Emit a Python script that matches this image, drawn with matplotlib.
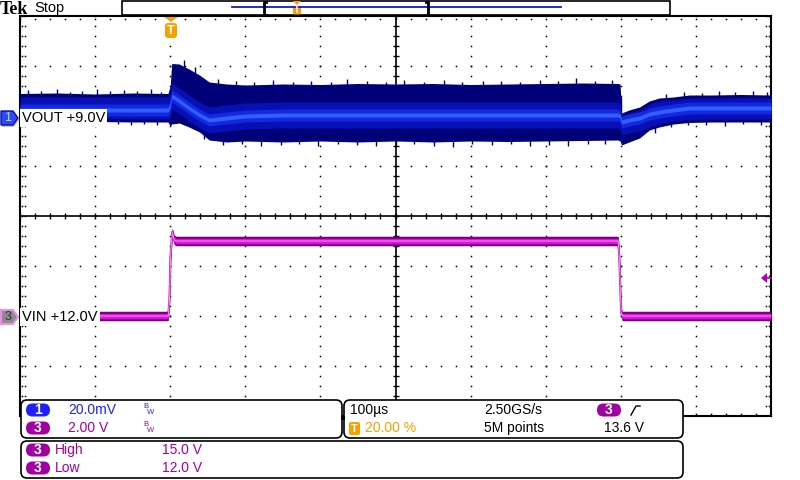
import numpy as np
import matplotlib.pyplot as plt
from matplotlib.patches import FancyBboxPatch, Polygon, Rectangle

plt.rcParams['font.family'] = ['Liberation Sans', 'DejaVu Sans']

# time after trigger (us); scope shows -200 .. 800 us (100 us/div)
t_out = [-200, -150, -100, -50, -3, 0, 2, 12, 25, 39, 52, 75, 100, 150, 200, 250, 300,
         350, 400, 450, 500, 550, 596, 599, 601, 611, 625, 638, 651, 670, 691, 720, 760, 800]
# VOUT ripple envelope, mV around 9.0 V (20 mV/div)
vout_hi = [9.0, 9.2, 8.8, 9.2, 9.0, 12.0, 21.0, 20.8, 18.8, 16.4, 13.6, 12.8, 12.4, 12.8, 12.6,
           13.0, 12.8, 13.0, 12.6, 12.8, 13.0, 13.2, 13.0, 12.8, 1.2, 2.4, 3.6, 6.0, 7.2, 7.6,
           8.4, 8.4, 8.6, 8.4]
vout_lo = [-2.4, -2.4, -2.2, -2.4, -2.4, -4.0, -3.2, -2.8, -4.4, -6.4, -9.6, -10.4, -10.0,
           -10.4, -10.0, -10.4, -10.0, -10.4, -10.0, -10.2, -10.0, -9.8, -9.6, -10.0, -11.6,
           -10.4, -8.8, -5.6, -4.4, -3.2, -2.6, -2.4, -2.4, -2.4]
vout_mid = [2.4, 2.4, 2.4, 2.4, 2.4, 4.0, 8.0, 6.0, 3.2, 0.4, -1.6, -0.8, 0.0, 0.4, 0.4, 0.4,
            0.4, 0.4, 0.4, 0.4, 0.4, 0.4, 0.4, 0.0, -2.4, -1.6, -0.8, 0.8, 1.6, 2.4, 3.2, 3.2,
            3.2, 3.2]

sp_up_t = [-190, -172, -151, -133, -117, -98, -80, -61, -44, -26, -12, 18, 33, 64, 88, 112,
           137, 163, 188, 214, 236, 262, 287, 311, 338, 364, 389, 416, 441, 466, 492, 517,
           541, 566, 588, 600, 660, 684, 708, 731, 752, 776, 795]
sp_up_v = [10.4, 9.8, 10.8, 9.6, 10.2, 11.0, 9.8, 10.4, 10.0, 10.8, 9.6, 22.4, 19.6, 14.8,
           14.0, 13.6, 14.4, 13.8, 14.2, 13.6, 14.8, 14.0, 13.6, 14.4, 13.8, 14.6, 13.6, 14.2,
           14.0, 13.8, 14.4, 14.0, 15.2, 14.0, 14.4, 7.6, 8.8, 9.6, 9.2, 10.0, 9.4, 9.8, 9.6]
sp_dn_t = [-182, -160, -141, -124, -105, -88, -70, -52, -35, -18, 45, 70, 96, 121, 147, 171,
           197, 223, 249, 274, 300, 325, 351, 377, 402, 428, 454, 479, 505, 530, 556, 579,
           645, 667, 690, 714, 739, 763, 787]
sp_dn_v = [-3.6, -3.2, -4.0, -3.0, -3.4, -3.8, -3.2, -3.6, -3.0, -3.4, -9.2, -11.6, -11.2,
           -12.0, -11.4, -11.0, -11.8, -11.2, -11.6, -12.0, -11.4, -11.0, -11.8, -12.2, -11.2,
           -11.6, -11.0, -11.8, -11.4, -12.0, -11.2, -11.0, -6.8, -4.4, -3.6, -3.4, -3.8,
           -3.2, -3.6]

# VIN, volts (2 V/div, offset 12.0 V)
t_in = [-200, -2.7, -1, 0.5, 2.7, 5.3, 8, 596.5, 598, 600.5, 602, 604, 800]
vin = [12.0, 12.0, 12.6, 14.4, 15.35, 15.05, 15.0, 15.0, 14.4, 12.15, 12.0, 12.0, 12.0]


def tdiv(t):
    return (np.asarray(t, float) + 200) / 100


def out_div(mv):
    return 2 + np.asarray(mv, float) / 20


def in_div(v):
    return -2 + (np.asarray(v, float) - 12) / 2


fig = plt.figure(figsize=(8, 4.8), dpi=100)
ax = fig.add_axes([20 / 800, 64 / 480, 751 / 800, 400 / 480])
ax.set_xlim(0, 10)
ax.set_ylim(-4, 4)
ax.set_xticks([])
ax.set_yticks([])
for s in ax.spines.values():
    s.set_linewidth(1.5)
    s.set_color('black')

# graticule
mx = np.arange(0, 10.01, 0.2)
my = np.arange(-4, 4.01, 0.2)
dot = dict(ls='none', marker='s', ms=1.1, mew=0, color='black', zorder=1)
for gx in [1, 2, 3, 4, 6, 7, 8, 9]:
    ax.plot(np.full_like(my, gx), my, **dot)
for gy in [-3, -2, -1, 1, 2, 3]:
    ax.plot(mx, np.full_like(mx, gy), **dot)
for ex in [0.03, 0.07, 9.93, 9.97]:
    ax.plot(np.full_like(my, ex), my, **dot)
for ey in [3.95, -3.95]:
    ax.plot(mx, np.full_like(mx, ey), **dot)
ax.axhline(0, color='black', lw=1.2, zorder=1)
ax.axvline(5, color='black', lw=1.2, zorder=1)
ax.plot(mx, np.zeros_like(mx), ls='none', marker='|', ms=4, mew=1, color='black', zorder=1)
ax.plot(np.full_like(my, 5), my, ls='none', marker='_', ms=4, mew=1, color='black', zorder=1)

# VOUT persistence band
x_out = tdiv(t_out)
hi = np.array(vout_hi)
lo = np.array(vout_lo)
mid = np.array(vout_mid)
ax.vlines(tdiv(sp_up_t), out_div(np.interp(sp_up_t, t_out, mid)), out_div(sp_up_v),
          color='#00006e', lw=1.0, zorder=2)
ax.vlines(tdiv(sp_dn_t), out_div(sp_dn_v), out_div(np.interp(sp_dn_t, t_out, mid)),
          color='#00006e', lw=1.0, zorder=2)
ax.fill_between(x_out, out_div(lo), out_div(hi), color='#000078', lw=0, zorder=3)
ax.fill_between(x_out, out_div(np.maximum(mid - 5.2, lo + 1.2)), out_div(np.minimum(mid + 5.2, hi - 1.2)),
                color='#0610b4', lw=0, zorder=4)
ax.fill_between(x_out, out_div(np.maximum(mid - 2.4, lo)), out_div(np.minimum(mid + 2.4, hi)),
                color='#1428e0', lw=0, zorder=5)
ax.fill_between(x_out, out_div(np.maximum(mid - 0.8, lo)), out_div(np.minimum(mid + 0.8, hi)),
                color='#3060ff', lw=0, zorder=5)

# VIN trace
x_in = tdiv(t_in)
v = np.array(vin)
ax.plot(x_in, in_div(v), color='#a000a0', lw=1.5, zorder=6)
ax.fill_between(x_in, in_div(v - 0.19), in_div(v + 0.19), color='#7a007a', lw=0, zorder=6)
ax.fill_between(x_in, in_div(v - 0.1), in_div(v + 0.1), color='#e010e0', lw=0, zorder=7)
ax.plot(x_in, in_div(v), color='#ff80ff', lw=0.8, zorder=8)

# overlay in pixel coordinates
ov = fig.add_axes([0, 0, 1, 1])
ov.set_xlim(0, 800)
ov.set_ylim(480, 0)
ov.axis('off')
ov.patch.set_alpha(0)

ORANGE = '#f7a000'
BLUE = '#2020ff'
MAG = '#a000a0'

# header
ov.text(0, 9, 'Tek', family='Liberation Serif', weight='bold', fontsize=13, va='center')
ov.text(34, 8, 'Stop', fontsize=10.5, va='center')
ov.add_patch(Rectangle((122, 0.5), 548, 14.5, fc='white', ec='black', lw=1.2))
ov.plot([232, 561], [7, 7], color='#1818c8', lw=1.3)
ov.plot([266, 264, 264, 266], [1.5, 1.5, 14.5, 14.5], color='black', lw=2)
ov.plot([426, 428, 428, 426], [1.5, 1.5, 14.5, 14.5], color='black', lw=2)
ov.add_patch(Polygon([(293, 1), (301, 1), (297, 5)], fc=ORANGE, ec='none'))
ov.add_patch(FancyBboxPatch((293, 5), 8, 9.5, boxstyle='round,pad=0,rounding_size=2', fc=ORANGE, ec='none'))
ov.text(297, 10, 'T', color='white', fontsize=7, weight='bold', ha='center', va='center')

# trigger position marker
ov.add_patch(Polygon([(164, 17), (178, 17), (171, 22)], fc=ORANGE, ec='none'))
ov.add_patch(FancyBboxPatch((165, 23), 12, 15, boxstyle='round,pad=0,rounding_size=3', fc=ORANGE, ec='none'))
ov.text(171, 30.5, 'T', color='white', fontsize=9, weight='bold', ha='center', va='center')

# channel markers and labels
ov.add_patch(Polygon([(2, 113), (14, 113), (19, 120), (14, 127), (2, 127)], fc='#c8c0a0', ec='none'))
ov.add_patch(Polygon([(1, 111), (13, 111), (18, 118), (13, 125), (1, 125)], fc='#2a4cff', ec='#1010a0', lw=1))
ov.text(8, 118, '1', color='#c8d4ff', fontsize=9, ha='center', va='center')
ov.text(22, 118, 'VOUT +9.0V', fontsize=10.5, va='center',
        bbox=dict(facecolor='white', edgecolor='none', pad=1.5))
ov.add_patch(Polygon([(1, 310), (13, 310), (18, 317), (13, 324), (1, 324)], fc='#8c8c8c', ec='#e890e8', lw=1.5))
ov.text(8, 317, '3', color='#303030', fontsize=9, ha='center', va='center')
ov.text(22, 317, 'VIN +12.0V', fontsize=10.5, va='center',
        bbox=dict(facecolor='white', edgecolor='none', pad=1.5))

# trigger level arrow
ov.add_patch(Polygon([(761, 278), (767, 273), (767, 283)], fc='#b000b0', ec='none'))
ov.plot([765, 771], [278, 278], color='#b000b0', lw=1.2)

# readout panels
for (x0, y0, w, h) in [(21, 400, 321, 38), (344, 400, 339, 38), (21, 441, 662, 37)]:
    ov.add_patch(FancyBboxPatch((x0, y0), w, h, boxstyle='round,pad=0,rounding_size=6',
                                fc='white', ec='black', lw=1.2))
ov.add_patch(Rectangle((341, 416), 4, 4, fc='black', ec='none'))


def pill(x, y, label, color):
    ov.add_patch(FancyBboxPatch((x, y - 6.5), 24, 13, boxstyle='round,pad=0,rounding_size=6.5',
                                fc=color, ec='none'))
    ov.text(x + 12, y, label, color='white', fontsize=10, weight='bold', ha='center', va='center')


pill(26, 410, '1', BLUE)
ov.text(68, 410, '20.0mV', color=BLUE, fontsize=10, va='center')
ov.text(143, 407, 'B', color=BLUE, fontsize=5.5, va='center')
ov.text(147, 412, 'W', color=BLUE, fontsize=5.5, va='center')
pill(26, 428, '3', MAG)
ov.text(68, 428, '2.00 V', color=MAG, fontsize=10, va='center')
ov.text(143, 425, 'B', color=MAG, fontsize=5.5, va='center')
ov.text(147, 430, 'W', color=MAG, fontsize=5.5, va='center')

ov.text(350, 410, '100µs', fontsize=10, va='center')
ov.text(484, 410, '2.50GS/s', fontsize=10, va='center')
pill(597, 410, '3', MAG)
ov.plot([631, 636, 640], [415, 406, 406], color='black', lw=1)
ov.add_patch(FancyBboxPatch((349, 422), 11, 13, boxstyle='round,pad=0,rounding_size=2', fc=ORANGE, ec='none'))
ov.text(354.5, 428.5, 'T', color='white', fontsize=8, weight='bold', ha='center', va='center')
ov.text(365, 428, '20.00 %', color=ORANGE, fontsize=10, va='center')
ov.text(484, 428, '5M points', fontsize=10, va='center')
ov.text(604, 428, '13.6 V', fontsize=10, va='center')

pill(26, 450, '3', MAG)
ov.text(55, 450, 'High', color=MAG, fontsize=10, va='center')
ov.text(162, 450, '15.0 V', color=MAG, fontsize=10, va='center')
pill(26, 468, '3', MAG)
ov.text(55, 468, 'Low', color=MAG, fontsize=10, va='center')
ov.text(162, 468, '12.0 V', color=MAG, fontsize=10, va='center')

fig.savefig('out.png', dpi=100, facecolor='white')
